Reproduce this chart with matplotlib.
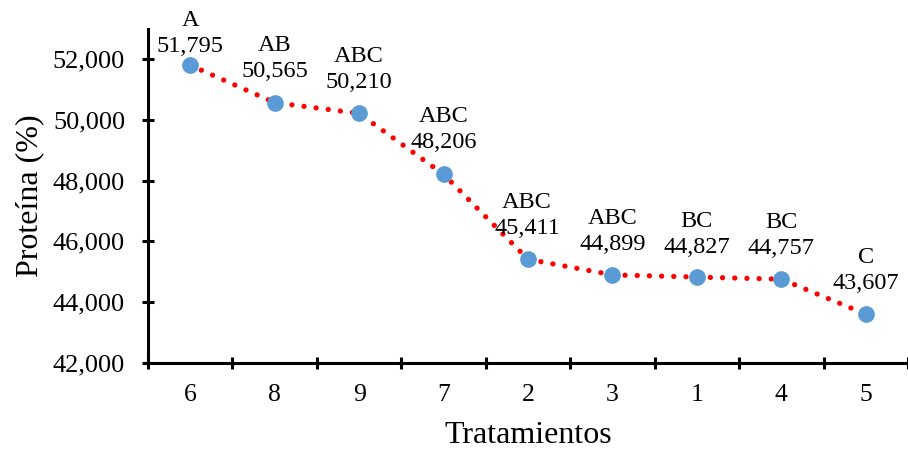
import matplotlib
matplotlib.use("Agg")
import matplotlib.pyplot as plt
from matplotlib.ticker import FixedLocator, FuncFormatter

categories = ["6", "8", "9", "7", "2", "3", "1", "4", "5"]
values = [51.795, 50.565, 50.210, 48.206, 45.411, 44.899, 44.827, 44.757, 43.607]
letters = ["A", "AB", "ABC", "ABC", "ABC", "ABC", "BC", "BC", "C"]
# label vertical offsets (pixels) above each point
value_offsets = [19, 31, 31, 32, 31, 30, 30, 31, 31]
x_offsets = [0, 0, 0, 0, -1, 0, 0, 0, 0]

plt.rcParams['font.family'] = ['Liberation Serif', 'DejaVu Serif']

dpi = 100
fig = plt.figure(figsize=(9.08, 4.5), dpi=dpi)
ax = fig.add_axes([148/908, (450-363)/450, (908-148)/908, (363-28.6)/450])

x = list(range(len(categories)))
ax.plot(x, values, color="#FF0000", lw=3.8, linestyle=(0, (0.01, 2.3)),
        dash_capstyle="round", zorder=2)
ax.plot(x, values, linestyle="none", marker="o", ms=11, color="#5B9BD5",
        markeredgecolor="#5B9BD5", zorder=3)

px2pt = 72 / dpi
for xi, v, let, off, xo in zip(x, values, letters, value_offsets, x_offsets):
    ax.annotate(f"{v:.3f}".replace(".", ","), (xi, v),
                xytext=(xo * px2pt, off * px2pt), textcoords="offset points",
                ha="center", va="center", fontsize=17.5, color="#000000")
    ax.annotate(let, (xi, v),
                xytext=(xo * px2pt, (off + 26) * px2pt), textcoords="offset points",
                ha="center", va="center", fontsize=17.5, color="#000000")

ax.set_xlim(-0.5, len(categories) - 0.5)
ax.set_ylim(42, 53)

ax.xaxis.set_major_locator(FixedLocator(x))
ax.set_xticklabels(categories)
ax.xaxis.set_minor_locator(FixedLocator([i - 0.5 for i in range(len(categories) + 1)]))
ax.tick_params(axis="x", which="major", length=0, pad=15, labelsize=18.5)
ax.tick_params(axis="x", which="minor", direction="inout", length=9, width=2.2)

ax.yaxis.set_major_locator(FixedLocator([42, 44, 46, 48, 50, 52]))
ax.yaxis.set_major_formatter(FuncFormatter(lambda v, p: f"{v:.3f}".replace(".", ",")))
ax.tick_params(axis="y", which="major", direction="inout", length=9, width=2.2,
               pad=12, labelsize=19)

for s in ["top", "right"]:
    ax.spines[s].set_visible(False)
for s in ["left", "bottom"]:
    ax.spines[s].set_linewidth(2.2)

ax.set_xlabel("Tratamientos", fontsize=23, labelpad=11)
ax.set_ylabel("Proteína (%)", fontsize=23, labelpad=6)

fig.savefig("out.png", dpi=dpi)
